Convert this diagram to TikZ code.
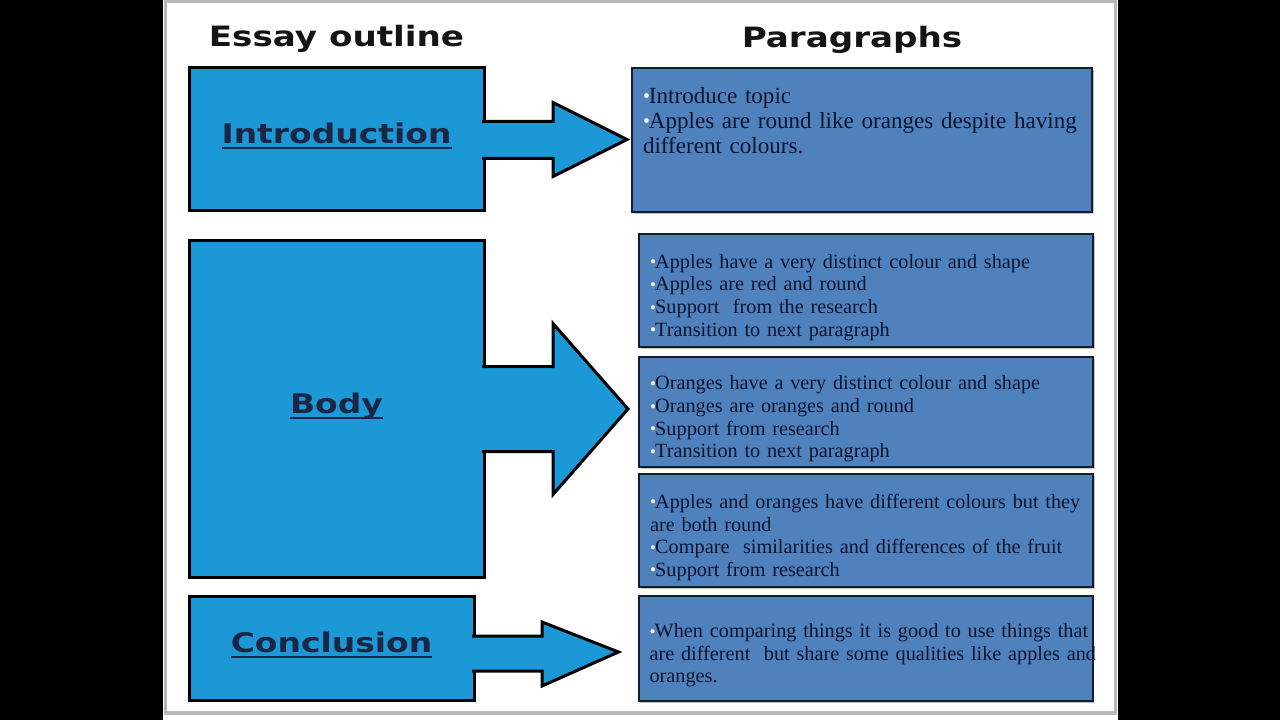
\documentclass[tikz,border=0pt]{standalone}
\usepackage{fontspec}
\setmainfont{Liberation Serif}
\newfontfamily\headfont[FakeStretch=1.22]{DejaVu Sans}
\usepackage{tikz}
\usetikzlibrary{positioning, calc, shadows}
\definecolor{sidebg}{HTML}{1B98D5}
\definecolor{parabg}{HTML}{4F81BD}
\definecolor{parafg}{HTML}{0C142E}
\definecolor{paraedge}{HTML}{141C30}
\definecolor{labelfg}{HTML}{1A2744}
\definecolor{edgegray}{HTML}{B8B8B8}
\newcommand{\pdot}{\textcolor{white}{\raisebox{0.02em}{\scalebox{0.85}{\textbullet}}}\kern-0.04em}
\newcommand{\ulab}[1]{\setbox0\hbox{#1}\rlap{\rule[-4pt]{\wd0}{1.5pt}}\box0}

\begin{document}
\begin{tikzpicture}[
    x=0.75pt, y=-0.75pt,
    % 1. left outline boxes
    sidebox/.style={
        draw=black,
        line width=2.25pt,
        fill=sidebg,
        text=labelfg,
        font=\headfont\bfseries\fontsize{20.25pt}{24pt}\selectfont,
        text depth=9pt,
        inner sep=0pt
    },
    % 2. right paragraph boxes
    parabox/.style={
        draw=paraedge,
        line width=1.5pt,
        fill=parabg,
        text=parafg,
        align=left,
        text width=324pt,
        text height=21pt,
        inner xsep=8.25pt,
        inner ysep=0pt,
        font=\fontsize{15.2pt}{17pt}\selectfont,
        drop shadow={shadow xshift=1.2pt, shadow yshift=-1.2pt, fill=black, opacity=0.25}
    },
    % 3. column titles
    headtitle/.style={
        font=\headfont\bfseries\fontsize{21pt}{24pt}\selectfont,
        text=black!92,
        inner sep=0pt
    },
    % block arrow (box to paragraph)
    blockarrow/.style={
        draw=black,
        line width=2.25pt,
        fill=sidebg,
        line join=miter
    }
]

    % --- 0. slide background ---
    \useasboundingbox (0,0) rectangle (1280,720);
    \fill[black] (0,0) rectangle (1280,720);
    \fill[white] (163,0) rectangle (1118,720);
    \draw[edgegray, line width=2.5pt] (165.5,1.5) rectangle (1115.5,713);

    % --- 1. outline boxes ---
    \node[sidebox, minimum width=221.25pt, minimum height=107.25pt] (intro) at (336.5,139.5) {\ulab{Introduction}};
    \node[sidebox, minimum width=221.25pt, minimum height=252pt] (body) at (336.5,409) {\ulab{Body}};
    \node[sidebox, minimum width=213.75pt, minimum height=78pt] (concl) at (331.5,648) {\ulab{Conclusion}};

    % --- 2. paragraph boxes ---
    \node[parabox, text width=328.5pt, minimum height=108pt, text height=17.8pt,
          font=\fontsize{17.3pt}{18.75pt}\selectfont] (introtext) at (862,140) {
        \pdot Introduce topic\\
        \mbox{\pdot Apples are round like oranges despite having}\\
        different colours.\par\vspace*{17pt}\null
    };

    \node[parabox, minimum height=84.75pt] (bodya) at (866,290.5) {
        \pdot Apples have a very distinct colour and shape\\
        \pdot Apples are red and round\\
        \pdot Support~ from the research\\
        \pdot Transition to next paragraph
    };
    \node[parabox, minimum height=82.5pt, below=6pt of bodya] (bodyb) {
        \pdot Oranges have a very distinct colour and shape\\
        \pdot Oranges are oranges and round\\
        \pdot Support from research\\
        \pdot Transition to next paragraph
    };
    \node[parabox, minimum height=84.75pt, below=3.75pt of bodyb] (bodyc) {
        \mbox{\pdot Apples and oranges have different colours but they}\\
        are both round\\
        \pdot Compare~ similarities and differences of the fruit\\
        \pdot Support from research
    };

    \node[parabox, minimum height=78.75pt] (concltext) at (865.5,648.5) {
        \mbox{\pdot When comparing things it is good to use things that}\\
        \mbox{are different~ but share some qualities like apples and}\\
        oranges.
    };

    % --- 3. column titles ---
    \node[headtitle, above=10pt of intro] (outlinehead) {Essay outline};
    \node[headtitle, above=10pt of introtext, xshift=-7.5pt] (parahead) {Paragraphs};

    % --- 4. block arrows ---
    \filldraw[blockarrow]
        ($(intro.east)+(-3.5,-18)$) -- ($(intro.east)+(67.5,-18)$) -- ($(intro.east)+(67.5,-37)$)
        -- ($(intro.east -| introtext.west)+(-4,0)$)
        -- ($(intro.east)+(67.5,37)$) -- ($(intro.east)+(67.5,19)$) -- ($(intro.east)+(-3.5,19)$);
    \filldraw[blockarrow]
        ($(body.east)+(-3.5,-42.5)$) -- ($(body.east)+(67.5,-42.5)$) -- ($(body.east)+(67.5,-85.5)$)
        -- ($(body.east -| bodyb.west)+(-10,0)$)
        -- ($(body.east)+(67.5,85.5)$) -- ($(body.east)+(67.5,42.5)$) -- ($(body.east)+(-3.5,42.5)$);
    \filldraw[blockarrow]
        ($(concl.east)+(-3.5,-12)$) -- ($(concl.east)+(66.5,-12)$) -- ($(concl.east)+(66.5,-26)$)
        -- ($(concl.east -| concltext.west)+(-19,4)$)
        -- ($(concl.east)+(66.5,38)$) -- ($(concl.east)+(66.5,23)$) -- ($(concl.east)+(-3.5,23)$);

\end{tikzpicture}
\end{document}
